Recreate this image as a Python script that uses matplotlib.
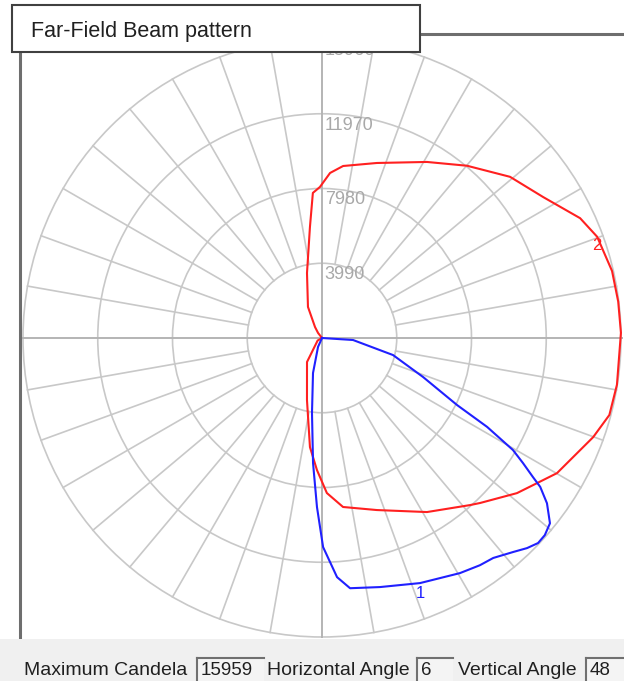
import numpy as np
import matplotlib.pyplot as plt
from matplotlib.patches import Rectangle, Circle

plt.rcParams['font.family'] = ['Liberation Sans', 'DejaVu Sans']

# Pierścienie siatki (kandele)
ring_values = [3990, 7980, 11970, 15960]
ring_labels = ['3990', '7980', '11970', '15960']

# Krzywa 2 (czerwona) - kąt [deg], natężenie [cd]
red_angle = [180, 128, 122.5, 114.3, 103, 96.2, 93.6, 90.8, 87.2, 83, 72.6, 59.2,
             49.9, 40.6, 32.5, 24.9, 20.2, 13, 7, 1, -9, -15, -20.1, -23.5, -26.2,
             -29.9, -34, -38.5, -46.2, -48.5, -58.9, -72.3, -82.9, -88.2, -92.2,
             -96.3, -103.6, -122, -150, -180]
red_cd = [0, 340, 690, 1820, 3560, 5960, 7760, 8060, 8820, 9250, 9790, 10940,
          12020, 13220, 14000, 15190, 15650, 15890, 15930, 15959, 15940, 15880,
          15410, 15020, 14760, 14470, 13850, 13300, 12200, 11910, 10850, 9640,
          9090, 8280, 7050, 5860, 3410, 1510, 270, 0]

# Krzywa 1 (niebieska)
blue_angle = [0, -3.7, -13.5, -21.1, -26.4, -28.3, -30.4, -31.9, -33.4, -34.3,
              -36.3, -39.1, -41.5, -43.5, -45.7, -48.2, -52.1, -55.2, -59.6, -68.2,
              -76.9, -83.6, -86.4, -89.7, -91.7, -94.1, -97.6, -104.4, -114, -120]
blue_cd = [0, 1660, 3900, 5780, 8050, 10010, 11820, 12640, 13490, 14100,
           14900, 15680, 15880, 15900, 15670, 15320, 14880, 14770, 14550, 14090,
           13650, 13440, 12790, 11160, 9030, 6690, 4040, 1930, 520, 0]

max_candela = '15959'
h_angle = '6'
v_angle = '48'

W, H = 624, 681
fig = plt.figure(figsize=(W / 100, H / 100), dpi=100)
fig.patch.set_facecolor('white')

def fx(x):
    return x / W

def fy(y):
    return 1 - y / H

# osie: srodek wykresu w (322, 338) px, 299 px = 15960 cd
scale = 15960 / 299
ax = fig.add_axes([fx(20), fy(638), 603 / W, 604 / H])
ax.set_xlim(-302 * scale, 301 * scale)
ax.set_ylim(-300 * scale, 304 * scale)
ax.set_xticks([])
ax.set_yticks([])
for s in ['right', 'bottom']:
    ax.spines[s].set_visible(False)
for s in ['left', 'top']:
    ax.spines[s].set_color('#6e6e6e')
    ax.spines[s].set_linewidth(2.2)

grid_col = '#c8c8c8'
for rv in ring_values:
    ax.add_patch(Circle((0, 0), rv, fill=False, ec=grid_col, lw=1.2, zorder=1))
for a in range(10, 360, 10):
    if a % 90 == 0:
        continue
    t = np.deg2rad(a)
    ax.plot([ring_values[0] * np.cos(t), ring_values[-1] * np.cos(t)],
            [ring_values[0] * np.sin(t), ring_values[-1] * np.sin(t)],
            color=grid_col, lw=1.2, zorder=1)
ax.axhline(0, color='#b4b4b4', lw=1.4, zorder=1)
ax.axvline(0, color='#b4b4b4', lw=1.4, zorder=1)

for rv, lab in zip(ring_values, ring_labels):
    ax.annotate(lab, (0, rv), xytext=(2, -2), textcoords='offset points',
                ha='left', va='top', fontsize=13, color='#a8a8a8', zorder=2)

# krzywe
ra = np.deg2rad(red_angle)
ba = np.deg2rad(blue_angle)
rx, ry = np.array(red_cd) * np.cos(ra), np.array(red_cd) * np.sin(ra)
bx, by = np.array(blue_cd) * np.cos(ba), np.array(blue_cd) * np.sin(ba)
ax.plot(rx, ry, color='#ff2020', lw=1.5, zorder=3)
ax.plot(bx, by, color='#2020ff', lw=1.5, zorder=3)

i2 = red_angle.index(20.2)
ax.annotate('2', (rx[i2], ry[i2]), xytext=(0, -1), textcoords='offset points',
            ha='center', va='top', fontsize=12, color='#ff2020', zorder=4)
i1 = blue_angle.index(-68.2)
ax.annotate('1', (bx[i1], by[i1]), xytext=(0, -2), textcoords='offset points',
            ha='center', va='top', fontsize=12, color='#2020ff', zorder=4)

# ramka tytulu
fig.add_artist(Rectangle((fx(12), fy(52)), (420 - 12) / W, (52 - 5) / H,
                         transform=fig.transFigure, fc='white', ec='#404040',
                         lw=1.5, zorder=5))
fig.text(fx(31), fy(37), 'Far-Field Beam pattern', fontsize=15.5,
         color='#202020', va='baseline', ha='left', zorder=6)

# pasek statusu
fig.add_artist(Rectangle((0, 0), 1, (H - 639) / H, transform=fig.transFigure,
                         fc='#f0f0f0', ec='none', zorder=5))
base = fy(675)
fig.text(fx(24), base, 'Maximum Candela', fontsize=14, color='#202020',
         va='baseline', zorder=6)
fig.text(fx(267), base, 'Horizontal Angle', fontsize=14, color='#202020',
         va='baseline', zorder=6)
fig.text(fx(458), base, 'Vertical Angle', fontsize=14, color='#202020',
         va='baseline', zorder=6)
for x0, x1, val in [(197, 264, max_candela), (417, 453, h_angle), (586, 640, v_angle)]:
    fig.add_artist(Rectangle((fx(x0), 0), (x1 - x0) / W, (H - 658) / H,
                             transform=fig.transFigure, fc='#f4f4f4', ec='none', zorder=6))
    fig.add_artist(plt.Line2D([fx(x0), fx(x1)], [fy(658), fy(658)],
                              transform=fig.transFigure, color='#707070', lw=1.5, zorder=7))
    fig.add_artist(plt.Line2D([fx(x0), fx(x0)], [fy(658), 0],
                              transform=fig.transFigure, color='#707070', lw=1.5, zorder=7))
    fig.text(fx(x0 + 4), fy(675), val, fontsize=13.5, color='#202020',
             va='baseline', zorder=8)

fig.savefig('out.png', dpi=100)
